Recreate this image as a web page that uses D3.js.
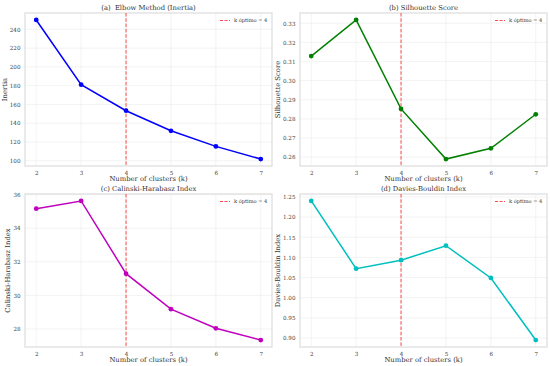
<!DOCTYPE html>
<html>
<head>
<meta charset="utf-8">
<script src="https://cdn.jsdelivr.net/npm/d3@7"></script>
<style>
  body { margin: 0; background: #fff; }
  svg { font-family: "DejaVu Serif", serif; }
</style>
</head>
<body>
<svg width="550" height="366"></svg>
<script>
const ks = [2, 3, 4, 5, 6, 7];
const inertia = [250.0, 181.0, 153.3, 131.9, 115.3, 101.8];
const silhouette = [0.3128, 0.3317, 0.2852, 0.2590, 0.2646, 0.2824];
const calinski = [35.16, 35.62, 31.29, 29.18, 28.04, 27.34];
const davies = [1.240, 1.072, 1.093, 1.129, 1.049, 0.895];
const bestK = 4;

const yTicksInertia = [100, 120, 140, 160, 180, 200, 220, 240];
const yTicksSil = [0.26, 0.27, 0.28, 0.29, 0.30, 0.31, 0.32, 0.33];
const yTicksCH = [28, 30, 32, 34, 36];
const yTicksDB = [0.90, 0.95, 1.00, 1.05, 1.10, 1.15, 1.20, 1.25];

const panels = [
  { title: "(a)  Elbow Method (Inertia)", ylabel: "Inertia", values: inertia, color: "#0000ff",
    ticks: yTicksInertia, fmt: d3.format("d"), left: 25, top: 13 },
  { title: "(b) Silhouette Score", ylabel: "Silhouette Score", values: silhouette, color: "#008000",
    ticks: yTicksSil, fmt: d3.format(".2f"), left: 300, top: 13 },
  { title: "(c) Calinski-Harabasz Index", ylabel: "Calinski-Harabasz Index", values: calinski, color: "#bf00bf",
    ticks: yTicksCH, fmt: d3.format("d"), left: 25, top: 194 },
  { title: "(d) Davies-Bouldin Index", ylabel: "Davies-Bouldin Index", values: davies, color: "#00bfbf",
    ticks: yTicksDB, fmt: d3.format(".2f"), left: 300, top: 194 }
];

const w = 247, h = 153;
const svg = d3.select("svg");

panels.forEach(p => {
  const g = svg.append("g").attr("transform", `translate(${p.left},${p.top})`);

  const x = d3.scaleLinear().domain([1.75, 7.25]).range([0, w]);
  const [mn, mx] = d3.extent(p.values);
  const pad = (mx - mn) * 0.05;
  const y = d3.scaleLinear().domain([mn - pad, mx + pad]).range([h, 0]);

  // grid
  g.append("g").selectAll("line").data(ks).join("line")
    .attr("x1", d => x(d)).attr("x2", d => x(d)).attr("y1", 0).attr("y2", h)
    .attr("stroke", "#ebebeb").attr("stroke-width", 0.6);
  g.append("g").selectAll("line").data(p.ticks).join("line")
    .attr("x1", 0).attr("x2", w).attr("y1", d => y(d)).attr("y2", d => y(d))
    .attr("stroke", "#ebebeb").attr("stroke-width", 0.6);

  // axes
  const xAxis = g.append("g").attr("transform", `translate(0,${h})`)
    .call(d3.axisBottom(x).tickValues(ks).tickSize(0).tickPadding(5).tickFormat(d3.format("d")));
  const yAxis = g.append("g")
    .call(d3.axisLeft(y).tickValues(p.ticks).tickSize(0).tickPadding(4.5).tickFormat(p.fmt));
  [xAxis, yAxis].forEach(a => {
    a.select(".domain").remove();
    a.selectAll("text").attr("font-family", "DejaVu Serif").attr("font-size", 5.6).attr("fill", "#444");
  });

  g.append("rect").attr("width", w).attr("height", h)
    .attr("fill", "none").attr("stroke", "#dcdcdc").attr("stroke-width", 1.2);

  // optimal k
  g.append("line").attr("x1", x(bestK)).attr("x2", x(bestK)).attr("y1", 0).attr("y2", h)
    .attr("stroke", "#ff0000").attr("stroke-opacity", 0.7).attr("stroke-width", 1)
    .attr("stroke-dasharray", "3.5,1.8");

  const line = d3.line().x((d, i) => x(ks[i])).y(d => y(d));
  g.append("path").datum(p.values).attr("d", line)
    .attr("fill", "none").attr("stroke", p.color).attr("stroke-width", 1.5);
  g.selectAll("circle.pt").data(p.values).join("circle").attr("class", "pt")
    .attr("cx", (d, i) => x(ks[i])).attr("cy", d => y(d)).attr("r", 2.4)
    .attr("fill", p.color);

  // legend
  const lg = g.append("g").attr("transform", `translate(${w - 52},7.5)`);
  lg.append("line").attr("x1", 0).attr("x2", 10).attr("y1", 0).attr("y2", 0)
    .attr("stroke", "#ff0000").attr("stroke-opacity", 0.7).attr("stroke-width", 1)
    .attr("stroke-dasharray", "3,1.5");
  lg.append("text").attr("x", 14).attr("y", 1.8).attr("font-size", 5.1).attr("fill", "#333")
    .text(`k óptimo = ${bestK}`);

  // labels
  g.append("text").attr("x", w / 2).attr("y", -3).attr("text-anchor", "middle")
    .attr("font-size", 6.8).attr("fill", "#333").style("white-space", "pre").text(p.title);
  g.append("text").attr("x", w / 2).attr("y", h + 15).attr("text-anchor", "middle")
    .attr("font-size", 6.8).attr("fill", "#333").text("Number of clusters (k)");
  const tb = yAxis.node().getBBox();
  g.append("text").attr("transform", `translate(${tb.x - 3},${h / 2}) rotate(-90)`)
    .attr("text-anchor", "middle").attr("font-size", 6.8).attr("fill", "#333").text(p.ylabel);
});
</script>
</body>
</html>
